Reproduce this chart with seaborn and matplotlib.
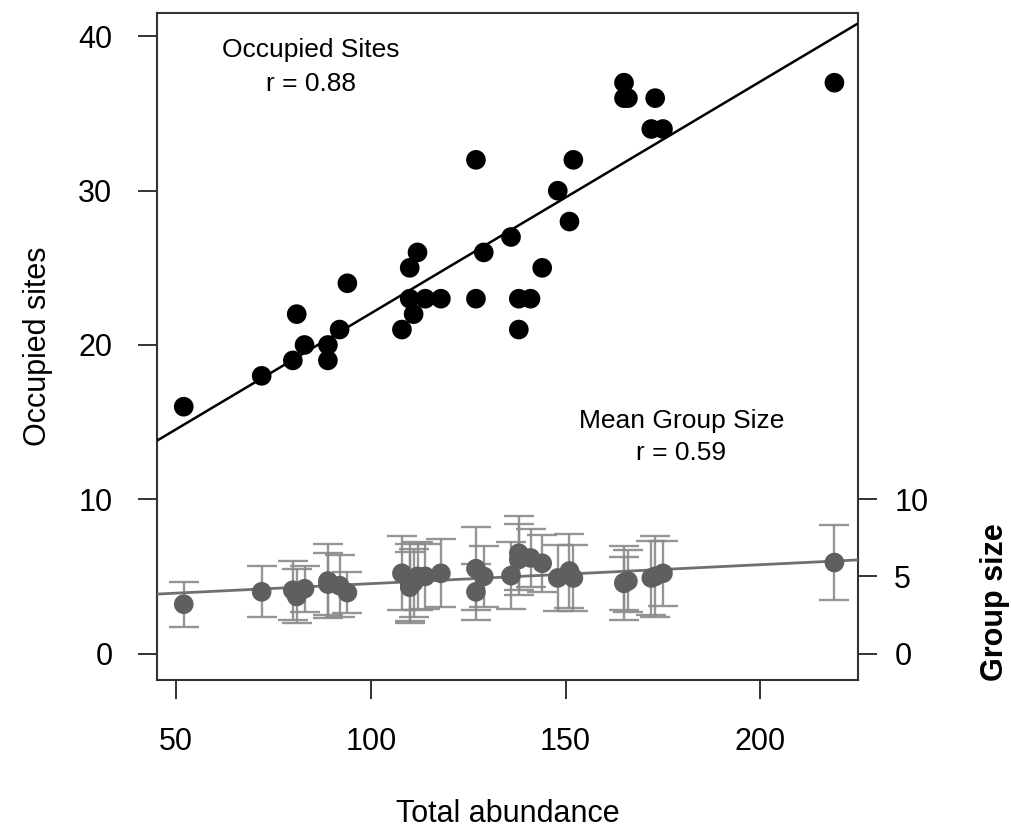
import numpy as np
import pandas as pd
import matplotlib
matplotlib.use("Agg")
import matplotlib.pyplot as plt
import seaborn as sns

sns.set_theme(style="white")
plt.rcParams['font.family'] = ['Liberation Sans', 'DejaVu Sans']
plt.rcParams['text.color'] = 'black'
plt.rcParams['axes.labelcolor'] = 'black'

# Data
abundance = [52, 72, 80, 81, 83, 89, 89, 92, 94, 108, 110, 112, 110, 111, 114, 118,
             127, 127, 129, 136, 138, 141, 138, 144, 148, 151, 152, 165, 165, 166,
             173, 172, 175, 219]
occupied = [16, 18, 19, 22, 20, 20, 19, 21, 24, 21, 25, 26, 23, 22, 23, 23,
            32, 23, 26, 27, 23, 23, 21, 25, 30, 28, 32, 37, 36, 36,
            36, 34, 34, 37]
group_size = [3.2, 4.0, 4.1, 3.7, 4.2, 4.7, 4.5, 4.4, 3.95, 5.2, 4.6, 5.0, 4.3, 4.6, 5.0, 5.2,
              5.5, 4.0, 5.0, 5.05, 6.5, 6.2, 6.1, 5.85, 4.9, 5.35, 4.9, 4.6, 4.55, 4.7,
              5.0, 4.9, 5.2, 5.9]
group_err = [1.45, 1.65, 1.9, 1.75, 1.5, 2.4, 2.0, 2.0, 1.35, 2.4, 2.5, 2.2, 2.3, 2.2, 2.1, 2.2,
             2.7, 1.8, 2.0, 2.15, 2.4, 1.9, 2.3, 1.85, 2.15, 2.4, 2.15, 2.4, 1.7, 2.0,
             2.6, 2.4, 2.1, 2.45]

x_ticks = [50, 100, 150, 200]
y_ticks = [0, 10, 20, 30, 40]
right_ticks = [0, 5, 10]

df = pd.DataFrame({"abundance": abundance, "occupied": occupied,
                   "group_size": group_size, "group_err": group_err})

fig = plt.figure(figsize=(10.12, 8.30), dpi=100)
ax = fig.add_axes([0.155, 0.181, 0.693, 0.803])
ax.set_xlim(45.1, 225.1)
ax.set_ylim(-1.7, 41.5)

# Group size error bars and points
gray_pt = "#5f5f5f"
ax.errorbar(df["abundance"], df["group_size"], yerr=df["group_err"], fmt="none",
            ecolor="#8a8a8a", elinewidth=1.7, capsize=11, capthick=1.7, alpha=0.9, zorder=2)
sns.regplot(data=df, x="abundance", y="group_size", scatter=False, ci=None,
            truncate=False, ax=ax, line_kws=dict(color="#707070", lw=2.0, zorder=3))
sns.scatterplot(data=df, x="abundance", y="group_size", ax=ax, s=200, color=gray_pt,
                edgecolor="none", zorder=4)

# Occupied sites
sns.regplot(data=df, x="abundance", y="occupied", scatter=False, ci=None,
            truncate=False, ax=ax, line_kws=dict(color="black", lw=1.8, zorder=3))
sns.scatterplot(data=df, x="abundance", y="occupied", ax=ax, s=200, color="black",
                edgecolor="none", zorder=5)

ax.set_xlim(45.1, 225.1)
ax.set_ylim(-1.7, 41.5)

for sp in ax.spines.values():
    sp.set_visible(True)
    sp.set_color("#333333")
    sp.set_linewidth(1.5)

ax.set_xticks(x_ticks)
ax.set_yticks(y_ticks)
ax.tick_params(axis="both", direction="out", length=14, width=1.4, color="#333333",
               labelsize=22, labelcolor="black")
ax.tick_params(axis="x", pad=20, bottom=True)
ax.tick_params(axis="y", pad=18, left=True)
ax.set_xlabel("Total abundance", fontsize=22, labelpad=30)
ax.set_ylabel("Occupied sites", fontsize=22, labelpad=18)

ax2 = ax.twinx()
ax2.set_ylim(ax.get_ylim())
ax2.set_yticks(right_ticks)
ax2.tick_params(axis="y", direction="out", length=14, width=1.4, color="#333333",
                labelsize=22, labelcolor="black", pad=12, right=True)
for sp in ax2.spines.values():
    sp.set_visible(False)

fig.text(995 / 1012, 1 - 602 / 830, "Group size", rotation=90, ha="center", va="center",
         fontsize=22, fontweight="bold")

ax.text(84.7, 39.1, "Occupied Sites", ha="center", va="center", fontsize=19)
ax.text(84.7, 36.9, "r = 0.88", ha="center", va="center", fontsize=19)
ax.text(179.7, 15.1, "Mean Group Size", ha="center", va="center", fontsize=19)
ax.text(179.7, 13.0, "r = 0.59", ha="center", va="center", fontsize=19)

fig.savefig("out.png", dpi=100)
